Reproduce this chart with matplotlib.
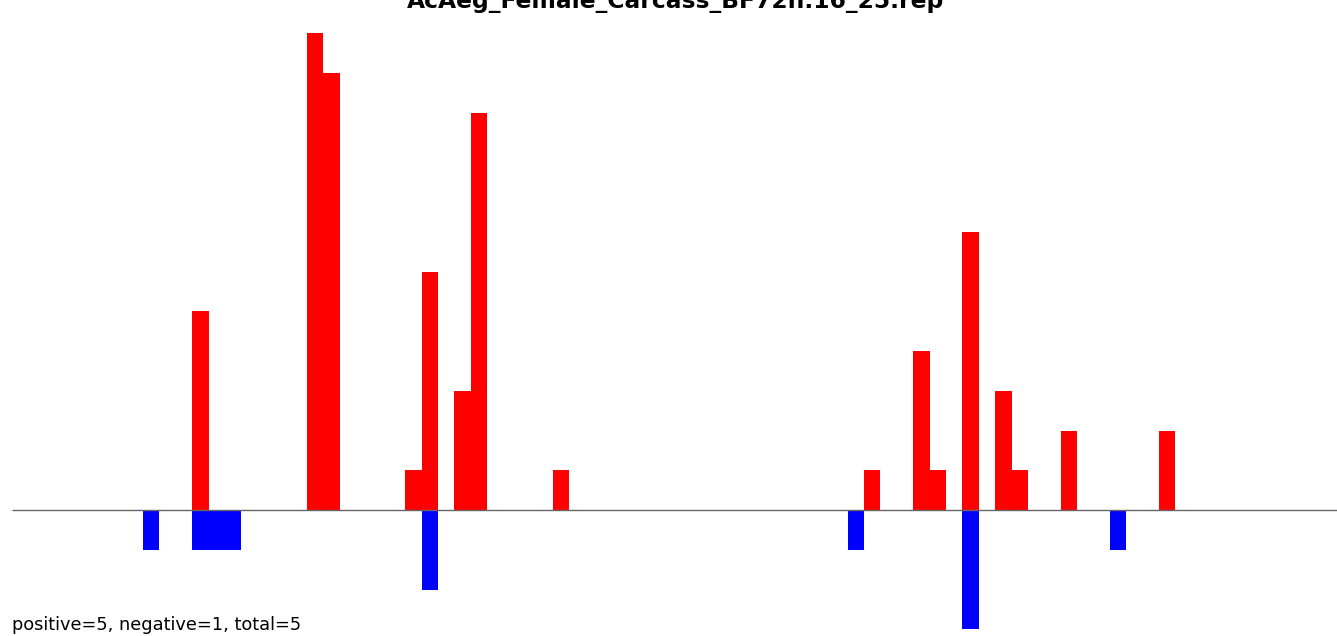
import matplotlib
matplotlib.use("Agg")
import matplotlib.pyplot as plt

title = "AcAeg_Female_Carcass_BF72h.16_25.rep"
footer = "positive=5, negative=1, total=5"

pos_idx = [11, 18, 19, 24, 25, 27, 28, 33, 52, 55, 56, 58, 60, 61, 64, 70]
pos_val = [5, 12, 11, 1, 6, 3, 10, 1, 1, 4, 1, 7, 3, 1, 2, 2]
neg_idx = [8, 11, 12, 13, 25, 51, 58, 67]
neg_val = [-1, -1, -1, -1, -2, -1, -3, -1]

W, H = 1337, 636
fig = plt.figure(figsize=(W / 100, H / 100), dpi=100)
ax = fig.add_axes([0, 0, 1, 1])
ax.set_axis_off()

bw = 16.386   # px per bar slot
unit = 39.75  # px per count
x0px, y0px = 12, 510
ax.set_xlim(-x0px / bw, (W - x0px) / bw)
ax.set_ylim(-(H - y0px) / unit, y0px / unit)

ax.bar(pos_idx, pos_val, width=1, align='edge', color='#ff0000', linewidth=0)
ax.bar(neg_idx, neg_val, width=1, align='edge', color='#0000ff', linewidth=0)
ax.plot([0, (W - x0px) / bw], [0, 0], color='#666666', lw=1, solid_capstyle='butt')

fig.text(675.5 / W, 1 - 8 / H, title, ha='center', va='baseline',
         fontsize=16.8, fontweight='bold', family='DejaVu Sans')
fig.text(12 / W, 1 - 630 / H, footer, ha='left', va='baseline',
         fontsize=12.75, family='DejaVu Sans')

fig.savefig("out.png", dpi=100)
